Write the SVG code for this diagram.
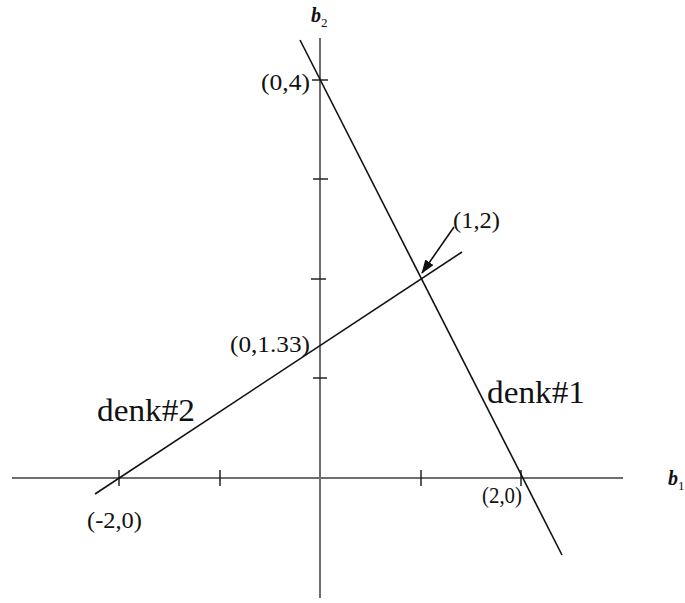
<svg xmlns="http://www.w3.org/2000/svg" width="685" height="603" viewBox="0 0 685 603">
<style>
.axis{stroke:#6e6e6e;stroke-width:2;fill:none}
.tick{stroke:#222;stroke-width:1.5;fill:none}
.ln{stroke:#111;stroke-width:1.6;fill:none}
.lbl{font-family:"Liberation Serif",serif;font-size:24px;fill:#111}
.big{font-family:"Liberation Serif",serif;font-size:32px;fill:#111}
.ax{font-family:"Liberation Serif",serif;font-size:20px;font-style:italic;font-weight:bold;fill:#111}
.sub{font-family:"Liberation Serif",serif;font-size:13px;fill:#111}
</style>
<defs>
<marker id="ah" markerWidth="14" markerHeight="10" refX="13" refY="5" orient="auto" markerUnits="userSpaceOnUse" viewBox="0 0 14 10">
<path d="M0,0 L14,5 L0,10 z" fill="#111"/>
</marker>
</defs>
<rect width="685" height="603" fill="#fff"/>
<g id="axes">
<line class="axis" x1="12" y1="478" x2="623" y2="478"/>
<line class="axis" x1="320" y1="38" x2="320" y2="598"/>
<g id="ticks">
<line class="tick" x1="119" y1="470" x2="119" y2="486"/>
<line class="tick" x1="220" y1="470" x2="220" y2="486"/>
<line class="tick" x1="421" y1="470" x2="421" y2="486"/>
<line class="tick" x1="521" y1="470" x2="521" y2="486"/>
<line class="tick" x1="312" y1="80" x2="328" y2="80"/>
<line class="tick" x1="313" y1="179" x2="328" y2="179"/>
<line class="tick" x1="311" y1="279" x2="326" y2="279"/>
<line class="tick" x1="313" y1="378" x2="327" y2="378"/>
</g>
<text class="ax" x="311" y="22">b<tspan class="sub" dy="5" font-style="normal" font-weight="normal">2</tspan></text>
<text class="ax" x="668" y="485">b<tspan class="sub" dy="5" font-style="normal" font-weight="normal">1</tspan></text>
</g>
<g id="connectors">
<line id="denk1-line" class="ln" x1="300" y1="40" x2="562" y2="555"/>
<line id="denk2-line" class="ln" x1="95" y1="494" x2="462" y2="252"/>
<line id="arrow" class="ln" x1="454" y1="227" x2="422" y2="273" marker-end="url(#ah)"/>
</g>
<g id="label-0-4"><text class="lbl" x="261" y="90" textLength="49" lengthAdjust="spacingAndGlyphs">(0,4)</text></g>
<g id="label-1-2"><text class="lbl" x="453" y="228" textLength="47" lengthAdjust="spacingAndGlyphs">(1,2)</text></g>
<g id="label-0-133"><text class="lbl" x="230" y="352" textLength="80" lengthAdjust="spacingAndGlyphs">(0,1.33)</text></g>
<g id="label-m2-0"><text class="lbl" x="87" y="528" textLength="55" lengthAdjust="spacingAndGlyphs">(-2,0)</text></g>
<g id="label-2-0"><text class="lbl" x="482" y="503" textLength="40" lengthAdjust="spacingAndGlyphs">(2,0)</text></g>
<g id="denk2"><text class="big" x="97" y="421" textLength="98" lengthAdjust="spacingAndGlyphs">denk#2</text></g>
<g id="denk1"><text class="big" x="487" y="403" textLength="98" lengthAdjust="spacingAndGlyphs">denk#1</text></g>
</svg>
